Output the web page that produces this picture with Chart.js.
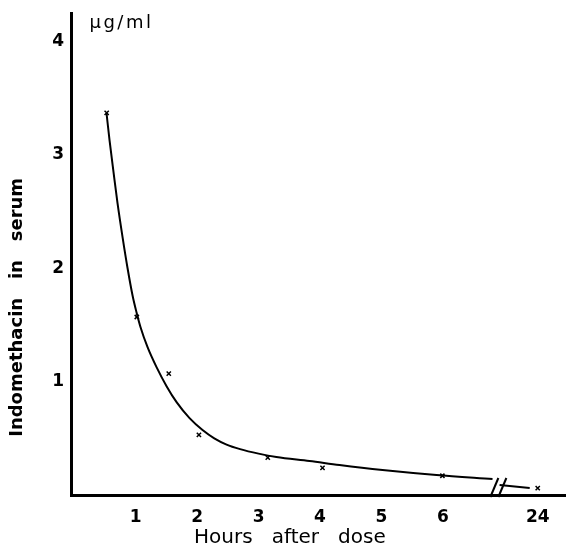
<!DOCTYPE html>
<html>
<head>
<meta charset="utf-8">
<script src="https://cdn.jsdelivr.net/npm/chart.js@4/dist/chart.umd.min.js"></script>
<style>
  html,body{margin:0;padding:0;background:#fff;overflow:hidden;}
  #wrap{width:566px;height:550px;position:relative;}
  #c{display:block;}
</style>
</head>
<body>
<div id="wrap"><canvas id="c"></canvas></div>
<script>
// measured serum levels (x marks)
const sampleHours = [0.53, 1.02, 1.54, 2.03, 3.15, 4.04, 5.99, 24];
const sampleConc  = [3.37, 1.57, 1.07, 0.53, 0.33, 0.24, 0.17, 0.06];

// hand-drawn fitted curve
const curveHours = [0.528, 0.577, 0.642, 0.707, 0.789, 0.870, 0.951, 1.016, 1.081, 1.195, 1.341, 1.504, 1.667, 1.878, 2.089, 2.28, 2.48, 2.70, 3.00, 3.29, 3.829, 4.317, 5.016, 5.894, 6.805];
const curveConc  = [3.366, 3.128, 2.846, 2.573, 2.273, 2.000, 1.760, 1.610, 1.480, 1.304, 1.128, 0.960, 0.819, 0.678, 0.573, 0.500, 0.445, 0.405, 0.365, 0.335, 0.300, 0.264, 0.220, 0.176, 0.141];
const tailHours = [6.92, 7.41];
const tailConc  = [0.088, 0.062];

const xTickPos    = [1, 2, 3, 4, 5, 6, 7.54];
const xTickLabels = ['1', '2', '3', '4', '5', '6', '24'];
const yTicks      = [0, 1, 2, 3, 4];
const breakAt = 6.9;       // axis break between 6 h and 24 h
const pos24 = 7.54;        // where 24 h sits on the compressed axis

const xy = (hs, vs) => hs.map((h, i) => ({x: h > 12 ? pos24 : h, y: vs[i]}));
const FONT = 'DejaVu Sans';

const extras = {
  id: 'extras',
  afterDraw(chart){
    const {ctx} = chart, xs = chart.scales.x, ys = chart.scales.y;
    const bx = xs.getPixelForValue(breakAt), by = ys.getPixelForValue(0);
    ctx.save();
    ctx.strokeStyle = '#000'; ctx.lineWidth = 2;
    [-4, 4].forEach(d => {
      ctx.beginPath();
      ctx.moveTo(bx + d - 4, by + 2);
      ctx.lineTo(bx + d + 4, by - 17);
      ctx.stroke();
    });
    ctx.fillStyle = '#000';
    ctx.font = '18px ' + FONT;
    ctx.letterSpacing = '2.5px';
    ctx.textBaseline = 'middle';
    ctx.fillText('\u03bcg/ml', xs.getPixelForValue(0.25), ys.getPixelForValue(4.05) - 13);
    ctx.restore();
  }
};

new Chart(document.getElementById('c'), {
  type: 'scatter',
  data: { datasets: [
    {data: xy(curveHours, curveConc), showLine: true, borderColor: '#000', borderWidth: 2, pointRadius: 0, tension: 0.4, cubicInterpolationMode: 'monotone'},
    {data: xy(tailHours, tailConc), showLine: true, borderColor: '#000', borderWidth: 2, pointRadius: 0},
    {data: xy(sampleHours, sampleConc), pointStyle: 'crossRot', pointRadius: 3, borderColor: '#000', borderWidth: 1.5, backgroundColor: '#000'}
  ]},
  options: {
    responsive: true, maintainAspectRatio: false, animation: false,
    layout: {autoPadding: false, padding: {top: 13, right: 0, left: 0, bottom: 0}},
    plugins: {legend: {display: false}, tooltip: {enabled: false}},
    scales: {
      x: {
        type: 'linear', min: -0.05, max: 8,
        afterBuildTicks: s => { s.ticks = xTickPos.map(v => ({value: v})); },
        afterFit: s => { s.height = 55; s.paddingRight = 0; },
        ticks: {callback: (v, i) => xTickLabels[i], color: '#000', padding: 8, maxRotation: 0, autoSkip: false,
                font: {family: FONT, size: 17, weight: 'bold'}},
        grid: {display: false, drawOnChartArea: false, drawTicks: true, tickLength: 4, tickWidth: 2, tickColor: '#000'},
        border: {display: true, color: '#000', width: 3},
        title: {display: true, text: 'Hours   after   dose         ', color: '#000',
                font: {family: FONT, size: 20}, padding: {top: 2, bottom: 0}}
      },
      y: {
        min: 0, max: 4.25,
        afterBuildTicks: s => { s.ticks = yTicks.map(v => ({value: v})); },
        afterFit: s => { s.width = 71; },
        ticks: {callback: v => v === 0 ? '' : String(v), color: '#000', padding: 3,
                font: {family: FONT, size: 17, weight: 'bold'}},
        grid: {display: false, drawOnChartArea: false, drawTicks: true, tickLength: 4, tickWidth: 2, tickColor: '#000'},
        border: {display: true, color: '#000', width: 3},
        title: {display: true, text: 'Indomethacin   in   serum                 ', color: '#000',
                font: {family: FONT, size: 18, weight: 'bold'}, padding: {top: 7, bottom: 4}}
      }
    }
  },
  plugins: [extras]
});
</script>
</body>
</html>
